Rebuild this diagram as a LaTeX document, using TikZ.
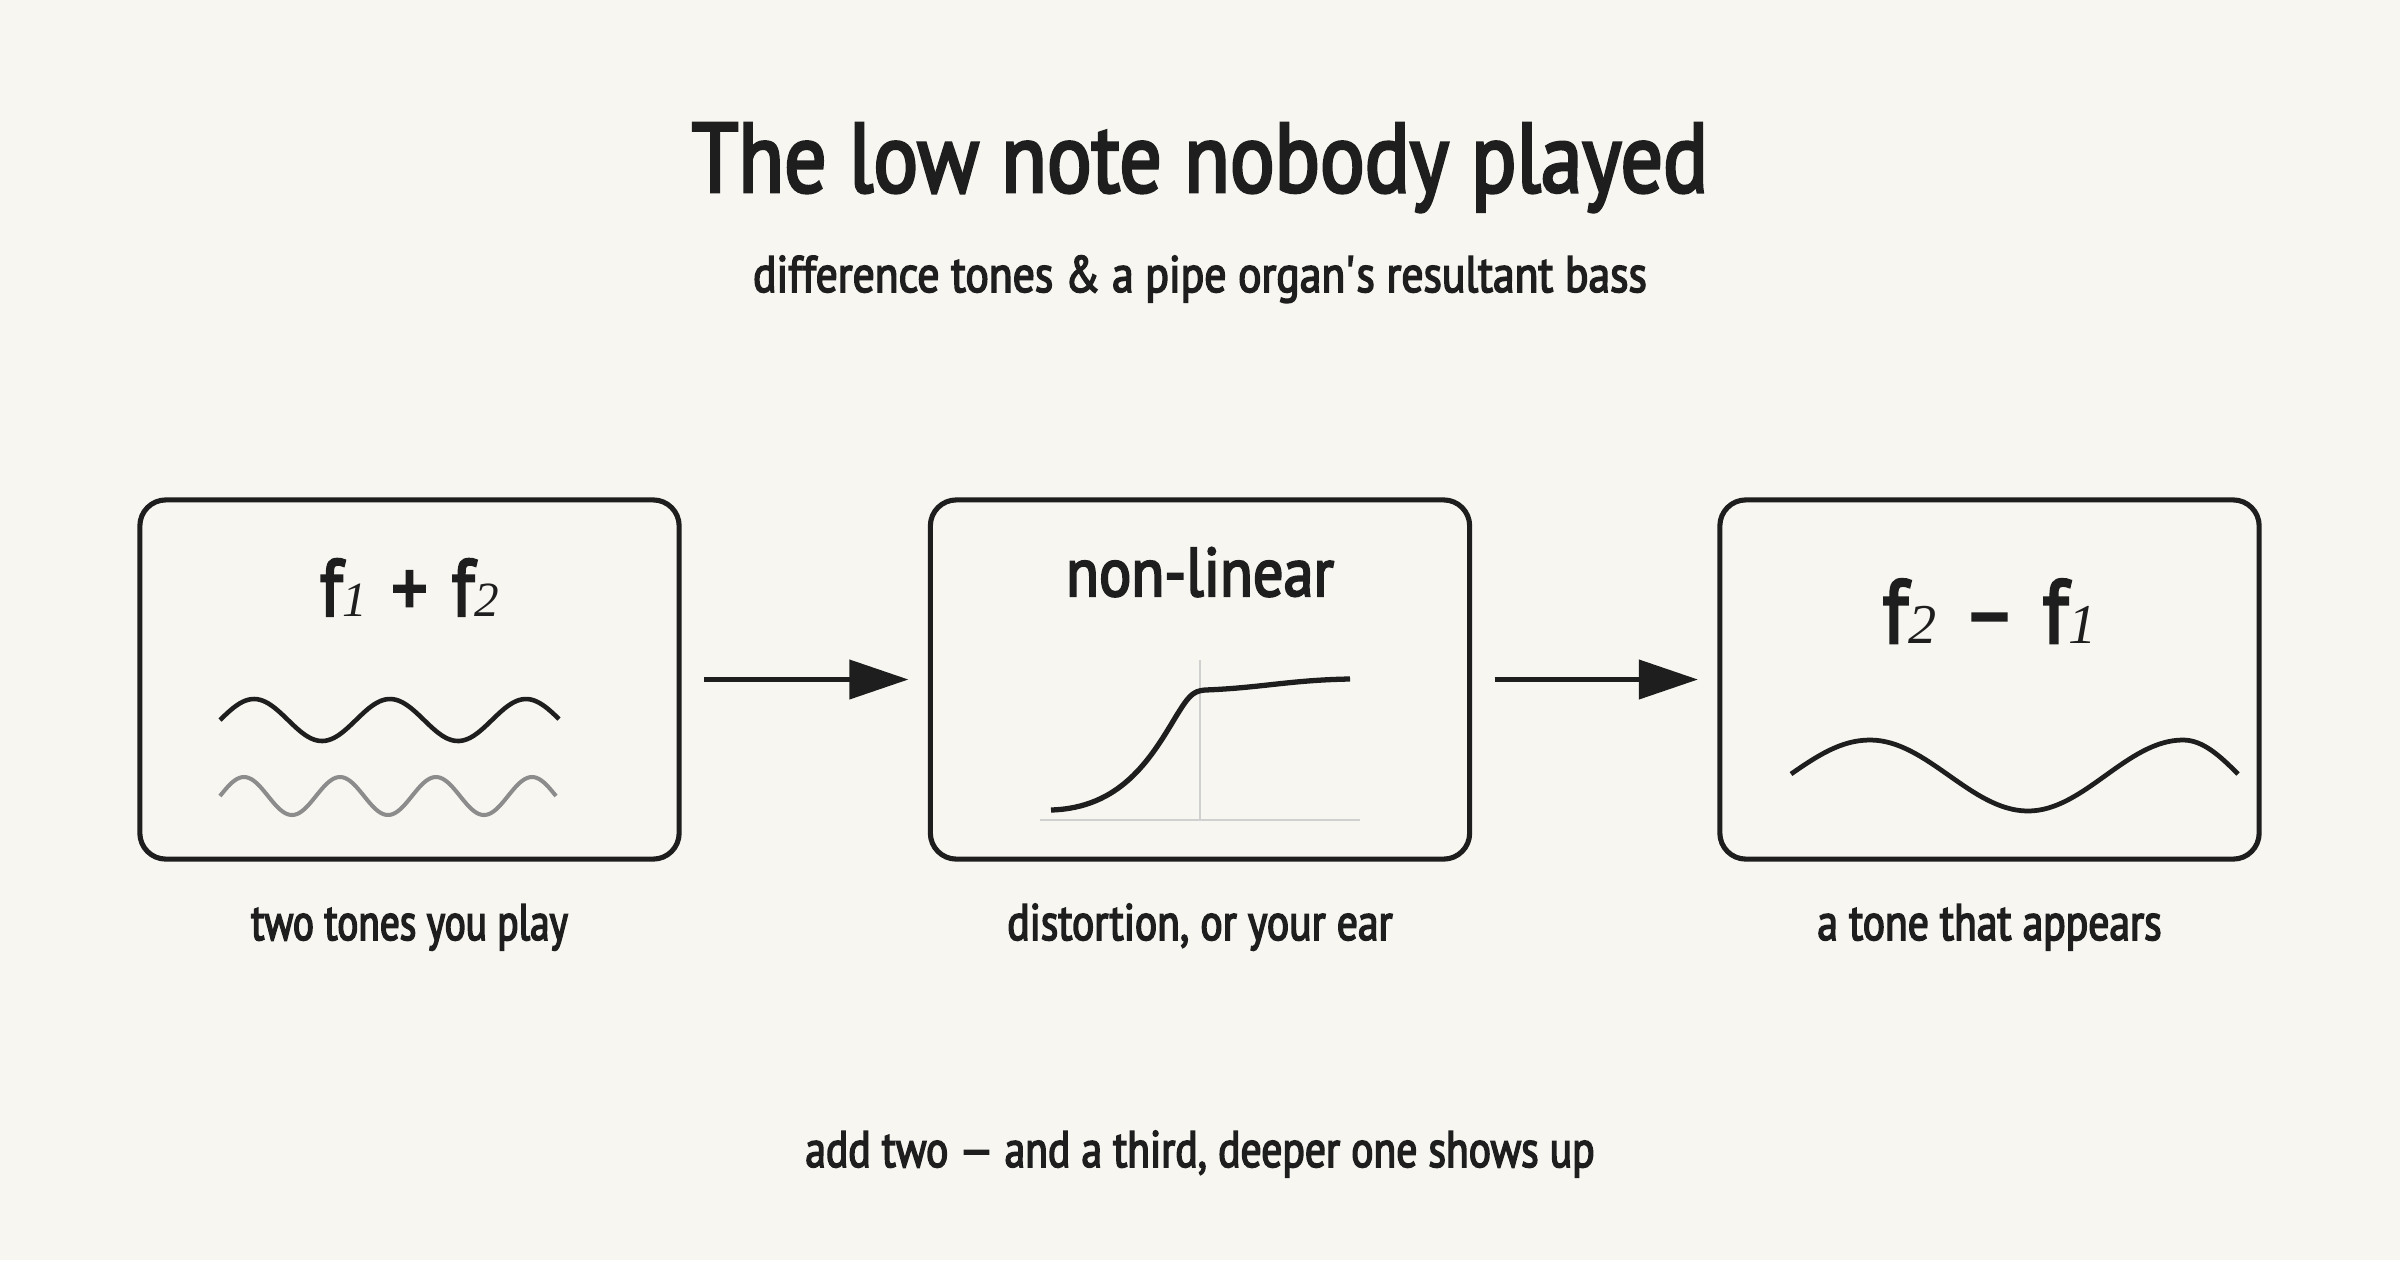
\documentclass[tikz,border=0pt]{standalone}
\usepackage{fontspec}
\setmainfont{PT Sans}[FakeStretch=0.8]
\newfontfamily\fontA{PT Sans}[FakeStretch=0.85, FakeBold=3]
\newfontfamily\fontB{PT Sans}[FakeStretch=0.81, FakeBold=3]
\newfontfamily\fontC{PT Sans}[FakeStretch=0.765, FakeBold=3]
\newfontfamily\fontD{PT Sans}[FakeStretch=0.88, FakeBold=3]
\newfontfamily\digitfont{Liberation Serif}
\usetikzlibrary{arrows.meta}
\definecolor{bg}{HTML}{F7F6F1}
\definecolor{ink}{HTML}{1E1E1E}
\definecolor{wavegrey}{HTML}{8C8C8C}
\definecolor{axisgrey}{HTML}{D0D0D0}
\newcommand{\fsub}[2]{{\digitfont\itshape\fontsize{#1}{#1}\selectfont #2}}
\tikzset{
  panel/.style={draw=ink, line width=1.45pt, rounded corners=0.26cm, minimum width=5.39cm, minimum height=3.59cm, inner sep=0pt, outer sep=0pt},
  flow/.style={draw=ink, line width=1.2pt, -{Triangle[length=0.59cm, width=0.39cm]}, shorten <=0.25cm, shorten >=0.22cm},
  txt/.style={text=ink, inner sep=0pt, anchor=base},
  titletxt/.style={txt, font=\fontA\fontsize{28pt}{28pt}\selectfont},
  wave/.style={ink, line width=1.3pt},
}
\begin{document}
\begin{tikzpicture}[x=0.01cm, y=-0.01cm]
\fill[bg] (0,0) rectangle (2400,1260);
\node[titletxt] (title) at (1200,192) {The low note nobody played};
\node[txt, font=\fontA\fontsize{14.6pt}{14.6pt}\selectfont] (subtitle) at (1200,292) {difference tones \& a pipe organ\textquotesingle s resultant bass};

\node[panel] (b1) at (409.5,679.5) {};
\node[panel] (b2) at (1200,679.5) {};
\node[panel] (b3) at (1989.5,679.5) {};

\draw[flow] (b1) -- (b2);
\draw[flow] (b2) -- (b3);

\node[txt, font=\fontD\fontsize{23pt}{23pt}\selectfont] (l1) at (409.5,616) {f\fsub{14pt}{1}\hspace{0.3em}+\hspace{0.3em}f\fsub{14pt}{2}};
\node[txt, font=\fontD\fontsize{19.5pt}{19.5pt}\selectfont] (l2) at (1200,596) {non-linear};
\node[txt, font=\fontD\fontsize{25.7pt}{25.7pt}\selectfont] (l3) at (1989.5,643) {f\fsub{16pt}{2}\hspace{0.3em}–\hspace{0.3em}f\fsub{16pt}{1}};

\draw[wave, domain=220:559, samples=120] plot (\x, {720-21*sin((\x-220)*2.6471)});
\draw[wavegrey, line width=1.15pt, domain=220:556, samples=140] plot (\x, {796-19*sin((\x-220)*3.75)});

\draw[axisgrey, line width=0.6pt] (1040,820) -- (1360,820);
\draw[axisgrey, line width=0.6pt] (1200,660) -- (1200,820);
\draw[ink, line width=1.5pt] (1051,810) .. controls (1120,808) and (1150,760) .. (1175,718) .. controls (1188,697) and (1192,691) .. (1205,690) .. controls (1260,688) and (1290,680) .. (1350,679);

\draw[wave, line width=1.35pt] (1791,774) .. controls (1817,756) and (1841,740) .. (1870,740) .. controls (1927,740) and (1971,811) .. (2028,811) .. controls (2084,811) and (2127,740) .. (2183,740) .. controls (2203,740) and (2220,756) .. (2238,774);

\node[txt, font=\fontC\fontsize{14.6pt}{14.6pt}\selectfont] (c1) at (409.5,940) {two tones you play};
\node[txt, font=\fontB\fontsize{14.6pt}{14.6pt}\selectfont] (c2) at (1200,940) {distortion, or your ear};
\node[txt, font=\fontB\fontsize{14.6pt}{14.6pt}\selectfont] (c3) at (1989.5,940) {a tone that appears};
\node[txt, font=\fontB\fontsize{14.6pt}{14.6pt}\selectfont] (foot) at (1200,1167) {add two — and a third, deeper one shows up};
\end{tikzpicture}
\end{document}
